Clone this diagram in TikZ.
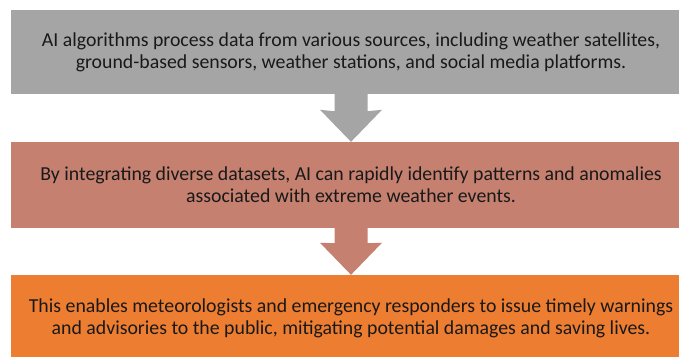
\documentclass[tikz,border=0pt]{standalone}
\usepackage{fontspec}
\setmainfont{Carlito}
\usetikzlibrary{calc}
\definecolor{cgray}{HTML}{A5A5A5}
\definecolor{csalmon}{HTML}{C58070}
\definecolor{corange}{HTML}{ED7D31}
\tikzset{
  stepbox/.style={rectangle, inner sep=0pt, minimum width=680pt, align=center,
    font=\fontsize{19.8}{22}\selectfont, text=black!90},
}
\begin{document}
\begin{tikzpicture}[x=1pt,y=-1pt]
\useasboundingbox (0,0) rectangle (679,356);
\node[stepbox, fill=cgray, minimum height=84pt] (b1) at (351,52)
  {AI algorithms process data from various sources, including weather satellites,\\ground-based sensors, weather stations, and social media platforms.};
\node[stepbox, fill=csalmon, minimum height=86pt] (b2) at (351,185)
  {By integrating diverse datasets, AI can rapidly identify patterns and anomalies\\associated with extreme weather events.};
\node[stepbox, fill=corange, minimum height=86pt] (b3) at (351,318)
  {This enables meteorologists and emergency responders to issue timely warnings\\and advisories to the public, mitigating potential damages and saving lives.};
\fill[cgray] ($(b1.south)+(-16.5,-1)$) -- ($(b1.south)+(-16.5,17)$) -- ($(b2.north)+(-31,-32)$) -- (b2.north)
  -- ($(b2.north)+(31,-32)$) -- ($(b1.south)+(16.5,17)$) -- ($(b1.south)+(16.5,-1)$) -- cycle;
\fill[csalmon] ($(b2.south)+(-16.5,-1)$) -- ($(b2.south)+(-16.5,15)$) -- ($(b3.north)+(-31,-32)$) -- (b3.north)
  -- ($(b3.north)+(31,-32)$) -- ($(b2.south)+(16.5,15)$) -- ($(b2.south)+(16.5,-1)$) -- cycle;
\end{tikzpicture}
\end{document}
